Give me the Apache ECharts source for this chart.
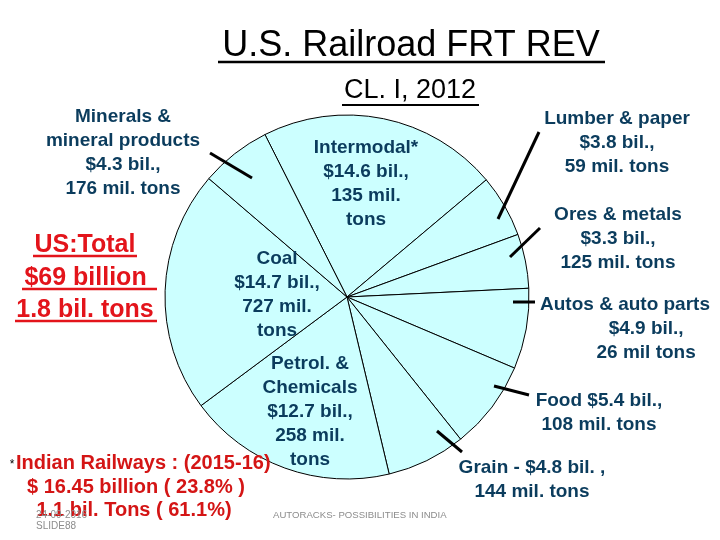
<!DOCTYPE html>
<html><head><meta charset="utf-8">
<script src="https://cdn.jsdelivr.net/npm/echarts@6/dist/echarts.min.js"></script>
<style>html,body{margin:0;padding:0;background:#fff}#c{width:720px;height:540px}</style>
</head><body><div id="c"></div>
<script>
// Data (clockwise from Intermodal)
var categories = ['Intermodal', 'Lumber & paper', 'Ores & metals', 'Autos & auto parts', 'Food', 'Grain', 'Petrol. & Chemicals', 'Coal', 'Minerals & mineral products'];
var revenueBil = [14.6, 3.8, 3.3, 4.9, 5.4, 4.8, 12.7, 14.7, 4.3];
var tonsMil = [135, 59, 125, 26, 108, 144, 258, 727, 176];
var labelTexts = [
  'Intermodal*\n$14.6 bil.,\n135 mil.\ntons',
  'Lumber & paper\n$3.8 bil.,\n59 mil. tons',
  'Ores & metals\n$3.3 bil.,\n125 mil. tons',
  'Autos & auto parts\n        $4.9 bil.,\n        26 mil tons',
  'Food $5.4 bil.,\n108 mil. tons',
  'Grain - $4.8 bil. ,\n144 mil. tons',
  'Petrol. &\nChemicals\n$12.7 bil.,\n258 mil.\ntons',
  'Coal\n$14.7 bil.,\n727 mil.\ntons',
  'Minerals &\nmineral products\n$4.3 bil.,\n176 mil. tons'
];
// label block centres (layout, not data)
var labelPos = [[366,184],[617,143],[618,239],[625,329],[599,413],[532,480],[310,412],[277,295],[123,153]];

var FONT = '"Liberation Sans", Arial, sans-serif';
var TEAL = '#0B3C5D';
var RED = '#E3141B';
var DRED = '#D41515';

var chart = echarts.init(document.getElementById('c'));
function txt(t, x, y, size, weight, color, align) {
  return {type:'text', silent:true, z:100, style:{text:t, x:x, y:y, fontSize:size, fontWeight:weight, fontFamily:FONT, fill:color, align:align||'center', verticalAlign:'middle'}};
}
function ln(x1,y1,x2,y2,w,color){
  return {type:'line', silent:true, z:100, shape:{x1:x1,y1:y1,x2:x2,y2:y2}, style:{stroke:color||'#000', lineWidth:w}};
}
var graphics = [
  txt('U.S. Railroad FRT REV', 411, 46, 36, 'normal', '#000'),
  ln(218, 62, 605, 62, 2.5, '#000'),
  txt('CL. I, 2012', 410, 91, 27, 'normal', '#000'),
  ln(342, 105, 479, 105, 2, '#000'),
  txt('US:Total', 85, 245, 25, 'bold', RED),
  ln(33, 256, 137, 256, 2.5, RED),
  txt('$69 billion ', 89, 278, 25, 'bold', RED),
  ln(22, 289, 157, 289, 2.5, RED),
  txt('1.8 bil. tons', 85, 310, 25, 'bold', RED),
  ln(15, 321, 157, 321, 2.5, RED),
  txt('*', 12, 465, 12, 'normal', '#000'),
  txt('Indian Railways : (2015-16)', 16, 463, 20, 'bold', DRED, 'left'),
  txt('$ 16.45 billion ( 23.8% )', 136, 487, 20, 'bold', DRED),
  txt('1.1 bil. Tons ( 61.1%)', 134, 510, 20, 'bold', DRED),
  txt('24-09-2016', 36, 515, 10, 'normal', '#8C8C8C', 'left'),
  txt('SLIDE88', 36, 526, 10, 'normal', '#8C8C8C', 'left'),
  txt('AUTORACKS- POSSIBILITIES IN INDIA', 273, 515, 9.6, 'normal', '#8C8C8C', 'left'),
  // leader ticks
  ln(210, 153, 252, 178, 3),
  ln(539, 132, 498, 219, 3),
  ln(540, 228, 510, 257, 3),
  ln(513, 302, 535, 302, 3),
  ln(494, 386, 529, 395, 3),
  ln(437, 431, 462, 452, 3)
];

chart.setOption({
  animation: false,
  backgroundColor: '#fff',
  graphic: graphics,
  series: [{
    type: 'pie',
    z: 1,
    center: [347, 297],
    radius: 182,
    startAngle: 116.8,
    clockwise: true,
    avoidLabelOverlap: false,
    emphasis: {disabled: true},
    itemStyle: {color: '#CCFFFF', borderColor: '#000', borderWidth: 1},
    label: {
      show: true,
      formatter: function(p){ return labelTexts[p.dataIndex]; },
      color: TEAL, fontSize: 19, fontWeight: 'bold', fontFamily: FONT, lineHeight: 24, align: 'center'
    },
    labelLine: {show: false},
    labelLayout: function(p){
      var q = labelPos[p.dataIndex];
      return {x: q[0], y: q[1], align: 'center', verticalAlign: 'middle'};
    },
    data: categories.map(function(c, i){ return {name: c, value: revenueBil[i], tons: tonsMil[i]}; })
  }]
});
</script>
</body></html>
